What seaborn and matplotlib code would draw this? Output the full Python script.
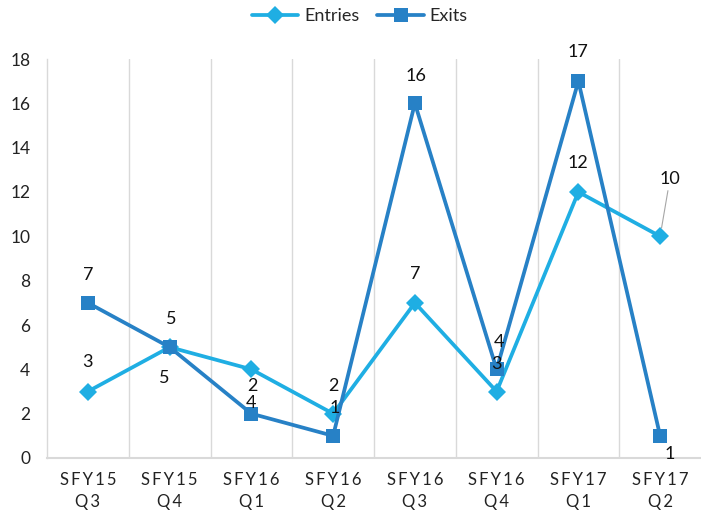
import matplotlib
matplotlib.use("Agg")
import matplotlib.pyplot as plt
import seaborn as sns
import pandas as pd
import numpy as np

categories = ["SFY15\nQ3", "SFY15\nQ4", "SFY16\nQ1", "SFY16\nQ2",
              "SFY16\nQ3", "SFY16\nQ4", "SFY17\nQ1", "SFY17\nQ2"]
entries = [3, 5, 4, 2, 7, 3, 12, 10]
exits = [7, 5, 2, 1, 16, 4, 17, 1]
y_ticks = [0, 2, 4, 6, 8, 10, 12, 14, 16, 18]

# label offsets in points (style only)
entries_off = [(0, 21), (-4, -22), (0, -24), (0, 20), (0, 21), (0, 20), (0, 21), (7, 41)]
exits_off = [(0, 20), (1, 20), (1, 20), (1, 20), (1, 20), (2, 20), (0, 21), (7, -13)]

sns.set_theme(style="white")
plt.rcParams['font.family'] = ['Lato', 'DejaVu Sans']

C_ENT = "#1FAEE3"
C_EXI = "#2781C6"

df = pd.DataFrame({
    "x": list(range(len(categories))) * 2,
    "value": entries + exits,
    "series": ["Entries"] * len(entries) + ["Exits"] * len(exits),
})

fig = plt.figure(figsize=(7.01, 5.19), dpi=100)
ax = fig.add_axes([47 / 701, 61 / 519, 654 / 701, 399 / 519])

sns.lineplot(data=df, x="x", y="value", hue="series", style="series",
             markers={"Entries": "D", "Exits": "s"}, dashes=False,
             palette={"Entries": C_ENT, "Exits": C_EXI},
             linewidth=2.7, markersize=9.5, markeredgewidth=0,
             hue_order=["Entries", "Exits"], ax=ax, legend=True)
for line in ax.lines:
    if line.get_marker() == "s":
        line.set_markersize(10)

ax.set_xlim(-0.5, len(categories) - 0.5)
ax.set_ylim(0, 18)
ax.set_yticks(y_ticks)
ax.set_yticklabels([str(t) for t in y_ticks], fontsize=12.5, color="#222222")
ax.set_xticks(range(len(categories)))
sp = "\u2009"
ax.set_xticklabels([sp.join(list(c.split("\n")[0])) + "\n" + sp.join(list(c.split("\n")[1]))
                    for c in categories], fontsize=12, color="#222222", linespacing=1.45)
ax.set_xticks(np.arange(0.5, len(categories) - 0.5, 1), minor=True)
ax.grid(which="minor", axis="x", color="#d9d9d9", linewidth=1)
ax.grid(which="major", visible=False)
ax.tick_params(axis="both", which="both", length=0)
ax.tick_params(axis="y", pad=12)
ax.tick_params(axis="x", pad=10)
ax.set_xlabel("")
ax.set_ylabel("")
for s in ["top", "right"]:
    ax.spines[s].set_visible(False)
ax.spines["left"].set_color("#d9d9d9")
ax.spines["bottom"].set_color("#d9d9d9")
ax.spines["left"].set_linewidth(1)
ax.spines["bottom"].set_linewidth(1.5)

for i, v in enumerate(entries):
    dx, dy = entries_off[i]
    kw = {}
    if i == len(entries) - 1:
        kw = dict(arrowprops=dict(arrowstyle="-", color="#a6a6a6", lw=0.8, shrinkA=0, shrinkB=6))
    ax.annotate(str(v), (i, v), xytext=(dx, dy), textcoords="offset points",
                ha="center", va="center", fontsize=13, color="#111111", **kw)
for i, v in enumerate(exits):
    dx, dy = exits_off[i]
    ax.annotate(str(v), (i, v), xytext=(dx, dy), textcoords="offset points",
                ha="center", va="center", fontsize=13, color="#111111")

ax.legend(loc="center", bbox_to_anchor=(0.478, 1.108), ncol=2, frameon=False,
          fontsize=13, handlelength=2.6, columnspacing=1.0, handletextpad=0.3)

fig.savefig("out.png", dpi=100)
